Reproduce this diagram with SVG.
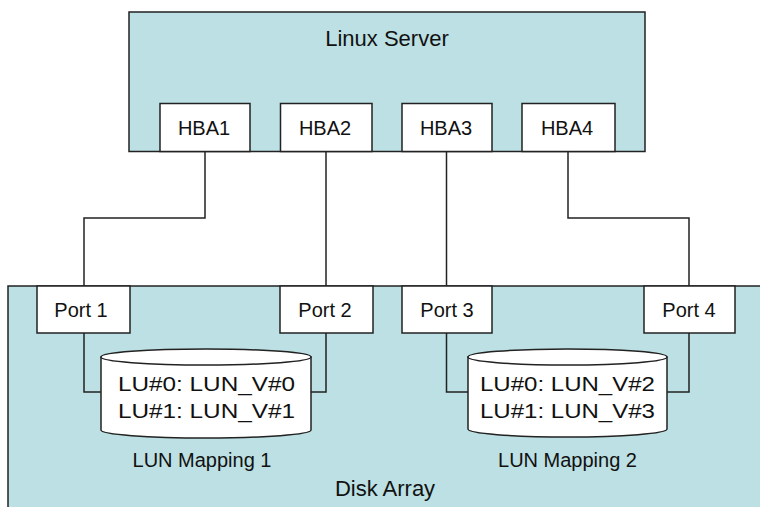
<svg xmlns="http://www.w3.org/2000/svg" width="760" height="507" viewBox="0 0 760 507">
<style>
.bg{fill:#BCE0E3;stroke:#222;stroke-width:1.5}
.box{fill:#FFFFFF;stroke:#222;stroke-width:1.5}
.ln{fill:none;stroke:#222;stroke-width:1.5}
text{font-family:"Liberation Sans",Arial,sans-serif;fill:#111;text-anchor:middle}
.t{font-size:20px}
.big{font-size:22px}
</style>
<rect width="760" height="507" fill="#FFFFFF"/>
<g id="disk-array">
<rect class="bg" x="8" y="286" width="760" height="240"/>
<text class="big" x="385" y="496">Disk Array</text>
</g>
<g id="linux-server">
<rect class="bg" x="129" y="12" width="516" height="139.5"/>
<text class="big" x="387" y="46">Linux Server</text>
</g>
<g id="hba1"><rect class="box" x="160" y="103.5" width="90" height="48"/><text class="t" x="204" y="135">HBA1</text></g>
<g id="hba2"><rect class="box" x="280.5" y="103.5" width="91.5" height="48"/><text class="t" x="325" y="135">HBA2</text></g>
<g id="hba3"><rect class="box" x="402" y="103.5" width="90" height="48"/><text class="t" x="446" y="135">HBA3</text></g>
<g id="hba4"><rect class="box" x="522" y="103.5" width="93" height="48"/><text class="t" x="567" y="135">HBA4</text></g>
<g id="connectors">
<polyline class="ln" points="205,151.5 205,218 84,218 84,286"/>
<polyline class="ln" points="326,151.5 326,286"/>
<polyline class="ln" points="446.5,151.5 446.5,286"/>
<polyline class="ln" points="568,151.5 568,218 689,218 689,286"/>
<polyline class="ln" points="84,333 84,392 101,392"/>
<polyline class="ln" points="326,333 326,392 311,392"/>
<polyline class="ln" points="446.5,333 446.5,392 468,392"/>
<polyline class="ln" points="689,333 689,392 667,392"/>
</g>
<g id="port1"><rect class="box" x="37" y="286" width="93" height="47"/><text class="t" x="81" y="317">Port 1</text></g>
<g id="port2"><rect class="box" x="280" y="286" width="93" height="47"/><text class="t" x="325" y="317">Port 2</text></g>
<g id="port3"><rect class="box" x="402" y="286" width="90" height="47"/><text class="t" x="447" y="317">Port 3</text></g>
<g id="port4"><rect class="box" x="644" y="286" width="91" height="47"/><text class="t" x="689" y="317">Port 4</text></g>
<g id="lun-mapping-1">
<path class="box" d="M101,357 L101,430 A105,8 0 0 0 311,430 L311,357 Z"/>
<ellipse class="box" cx="206" cy="357" rx="105" ry="8"/>
<text class="t" x="206.5" y="391" textLength="177" lengthAdjust="spacingAndGlyphs">LU#0: LUN_V#0</text>
<text class="t" x="206.5" y="418" textLength="177" lengthAdjust="spacingAndGlyphs">LU#1: LUN_V#1</text>
<text class="t" x="202" y="467">LUN Mapping 1</text>
</g>
<g id="lun-mapping-2">
<path class="box" d="M468,357 L468,429 A99.5,8 0 0 0 667,429 L667,357 Z"/>
<ellipse class="box" cx="567.5" cy="357" rx="99.5" ry="8"/>
<text class="t" x="567.5" y="391" textLength="175" lengthAdjust="spacingAndGlyphs">LU#0: LUN_V#2</text>
<text class="t" x="567.5" y="418" textLength="175" lengthAdjust="spacingAndGlyphs">LU#1: LUN_V#3</text>
<text class="t" x="567.5" y="467">LUN Mapping 2</text>
</g>
</svg>
